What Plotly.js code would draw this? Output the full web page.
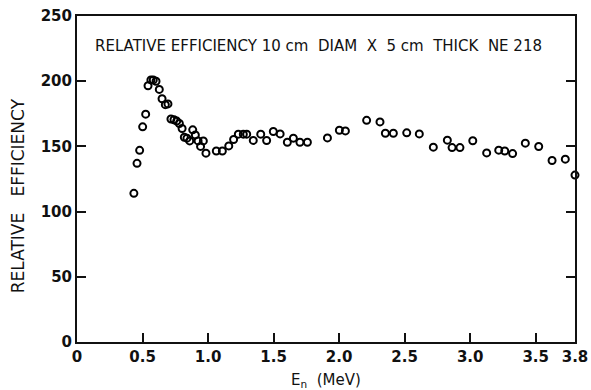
<!DOCTYPE html>
<html>
<head>
<meta charset="utf-8">
<script src="https://cdn.plot.ly/plotly-3.0.1.min.js"></script>
<style>html,body{margin:0;padding:0;background:#fff;}#chart{width:591px;height:390px;}</style>
</head>
<body>
<div id="chart"></div>
<script>
const energyMeV = [0.434,0.458,0.478,0.501,0.524,0.542,0.564,0.582,0.603,0.628,0.649,0.674,0.694,0.717,0.740,0.761,0.781,0.802,0.819,0.839,0.860,0.883,0.903,0.924,0.943,0.964,0.984,1.063,1.109,1.158,1.195,1.231,1.269,1.295,1.345,1.402,1.447,1.498,1.550,1.605,1.651,1.701,1.758,1.911,2.002,2.048,2.210,2.312,2.353,2.414,2.516,2.612,2.719,2.826,2.862,2.922,3.020,3.126,3.218,3.264,3.324,3.421,3.523,3.625,3.726,3.80];
const relEfficiency = [114,137,147,165,174.7,196.5,201,201,200,193.7,186.5,182,182.6,171,170.4,169.4,167.6,163.7,157,156.3,154.2,162.7,158.8,154.2,150,154.2,144.8,146.5,146.5,150.4,155.3,159.4,159.4,159.4,154.6,159.4,154.5,161.4,159.6,153.2,156.3,153.2,153.2,156.5,162.4,161.9,170,168.8,160.1,160.1,160.4,159.6,149.4,154.8,149.1,149.1,154.3,145,147.1,146.5,144.5,152.5,149.9,139.2,140.2,128];
const xTickVals = [0,0.5,1.0,1.5,2.0,2.5,3.0,3.5,3.8];
const xTickText = ['0','0.5','1.0','1.5','2.0','2.5','3.0','3.5','3.8'];
const yTickVals = [0,50,100,150,200,250];
const yTickText = ['0','50','100','150','200','250'];

const fam = 'DejaVu Sans, Verdana, sans-serif';
const ink = '#111';
const sp = '&nbsp;';

Plotly.newPlot('chart', [{
  x: energyMeV, y: relEfficiency, type:'scatter', mode:'markers',
  marker:{symbol:'circle-open', size:7, color:'#000', line:{width:2, color:'#000'}},
  cliponaxis:false, hoverinfo:'skip'
}], {
  width:591, height:390,
  margin:{l:77, r:16, t:16, b:48, pad:0},
  paper_bgcolor:'#fff', plot_bgcolor:'#fff',
  showlegend:false,
  font:{family:fam, color:ink},
  xaxis:{
    range:[0,3.8], tickvals:xTickVals, ticktext:xTickText,
    ticks:'inside', ticklen:9, tickwidth:2, tickcolor:ink,
    showline:true, linewidth:2, linecolor:ink, mirror:true,
    showgrid:false, zeroline:false,
    tickfont:{size:15, family:fam, color:ink, weight:'bold'},
    title:{text:'E<sub>n</sub>'+sp+sp+'(MeV)', font:{size:15, family:fam, color:ink}, standoff:9}
  },
  yaxis:{
    range:[0,250], tickvals:yTickVals, ticktext:yTickText,
    ticks:'inside', ticklen:9, tickwidth:2, tickcolor:ink,
    showline:true, linewidth:2, linecolor:ink, mirror:'ticks',
    showgrid:false, zeroline:false,
    tickfont:{size:15, family:fam, color:ink, weight:'bold'}
  },
  annotations:[{
    text:'RELATIVE'+sp+'EFFICIENCY'+sp+'10'+sp+'cm'+sp+sp+'DIAM'+sp+sp+'X'+sp+sp+'5'+sp+'cm'+sp+sp+'THICK'+sp+sp+'NE'+sp+'218',
    xref:'paper', yref:'paper', x:(318-77)/498, y:(341.5-46)/325.5,
    xanchor:'center', yanchor:'middle', showarrow:false,
    font:{size:15, family:fam, color:ink}
  },{
    text:'RELATIVE'+sp+sp+sp+'EFFICIENCY',
    xref:'paper', yref:'paper', x:(18-77)/498, y:(341.5-196)/325.5,
    xanchor:'center', yanchor:'middle', showarrow:false, textangle:-90,
    font:{size:17, family:fam, color:ink}
  }]
}, {staticPlot:true, displayModeBar:false});
</script>
</body>
</html>
